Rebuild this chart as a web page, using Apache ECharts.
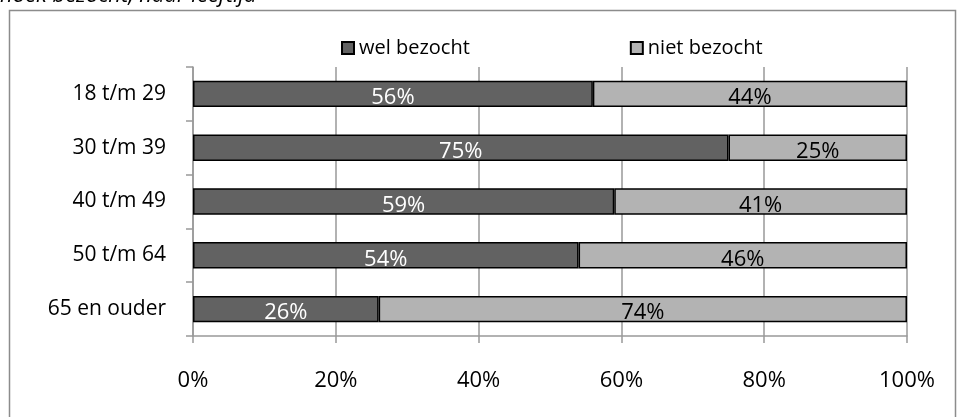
<!DOCTYPE html>
<html>
<head>
<meta charset="utf-8">
<script src="https://cdn.jsdelivr.net/npm/echarts@6/dist/echarts.min.js"></script>
<style>
  html, body { margin: 0; padding: 0; background: #fff; }
  #chart { width: 957px; height: 417px; }
</style>
</head>
<body>
<div id="chart"></div>
<script>
// Age groups and share of visitors / non-visitors (percent)
const ageGroups = ['18 t/m 29', '30 t/m 39', '40 t/m 49', '50 t/m 64', '65 en ouder'];
const welBezocht = [56, 75, 59, 54, 26];
const nietBezocht = [44, 25, 41, 46, 74];
const xTicks = [0, 20, 40, 60, 80, 100];

const FONT = '"Open Sans", sans-serif';

const chart = echarts.init(document.getElementById('chart'), null, { renderer: 'canvas' });

chart.setOption({
  animation: false,
  backgroundColor: '#fff',
  textStyle: { fontFamily: FONT },
  graphic: [
    {
      type: 'text',
      left: 0,
      top: -15,
      style: {
        text: 'hoek bezocht, naar leeftijd',
        fontFamily: FONT,
        fontStyle: 'italic',
        fontSize: 22,
        fill: '#000'
      },
      z: 10
    },
    {
      type: 'rect',
      shape: { x: 9.5, y: 10.5, width: 946, height: 430 },
      style: { fill: 'none', stroke: '#8c8c8c', lineWidth: 1.5 },
      z: -1
    }
  ],
  legend: {
    top: 33,
    left: 336,
    itemGap: 160,
    itemWidth: 12,
    itemHeight: 12,
    icon: 'rect',
    textStyle: { fontFamily: FONT, fontSize: 20, color: '#000', letterSpacing: 1.3 },
    data: ['wel bezocht', 'niet bezocht']
  },
  grid: { left: 193, right: 50, top: 67, bottom: 81 },
  xAxis: {
    type: 'value',
    min: 0,
    max: 100,
    interval: 20,
    axisLine: { show: true, lineStyle: { color: '#999', width: 1.5 } },
    axisTick: { show: true, length: 7, lineStyle: { color: '#999', width: 1.5 } },
    splitLine: { show: true, lineStyle: { color: '#999', width: 1.5 } },
    axisLabel: {
      fontFamily: FONT,
      fontSize: 22,
      color: '#000',
      margin: 34,
      formatter: function (v) { return xTicks.indexOf(v) >= 0 ? v + '%' : ''; }
    }
  },
  yAxis: {
    type: 'category',
    inverse: true,
    data: ageGroups,
    axisLine: { show: true, lineStyle: { color: '#999', width: 1.5 } },
    axisTick: { show: true, length: 7, lineStyle: { color: '#999', width: 1.5 } },
    axisLabel: { fontFamily: FONT, fontSize: 21, color: '#000', margin: 27 }
  },
  series: [
    {
      name: 'wel bezocht',
      type: 'bar',
      stack: 'total',
      barWidth: '49%',
      data: welBezocht,
      itemStyle: { color: '#626262', borderColor: '#000', borderWidth: 1.5 },
      label: {
        show: true,
        position: 'inside',
        offset: [0, 4],
        formatter: '{c}%',
        fontFamily: FONT,
        fontSize: 22,
        color: '#fff'
      }
    },
    {
      name: 'niet bezocht',
      type: 'bar',
      stack: 'total',
      barWidth: '49%',
      data: nietBezocht,
      itemStyle: { color: '#b3b3b3', borderColor: '#000', borderWidth: 1.5 },
      label: {
        show: true,
        position: 'inside',
        offset: [0, 4],
        formatter: '{c}%',
        fontFamily: FONT,
        fontSize: 22,
        color: '#000'
      }
    }
  ]
});
</script>
</body>
</html>
